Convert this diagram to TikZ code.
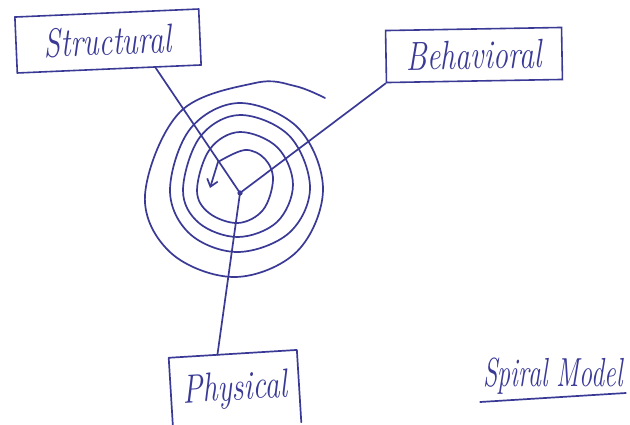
\documentclass[tikz,border=0pt]{standalone}
\usetikzlibrary{arrows.meta,calc}
\definecolor{ink}{RGB}{58,58,150}
\newcommand{\handw}[1]{\scalebox{1.04}[1.4]{#1}}
\begin{document}
\begin{tikzpicture}[x=1pt,y=-1pt]
\tikzset{
  inkline/.style={draw=ink, line width=1.7pt, line cap=round, line join=round},
  handtext/.style={text=ink, font=\fontsize{29}{32}\selectfont\itshape, inner sep=0pt},
  labelbox/.style={handtext, draw=ink, line width=1.6pt}
}
\fill[white] (0,0) rectangle (630,424);
\useasboundingbox (0,0) rectangle (630,424);

% boxes
\node[labelbox, minimum width=184pt, minimum height=56pt, rotate=2.5] (S) at (108,41) {\handw{Structural}};
\node[labelbox, minimum width=176pt, minimum height=52pt, rotate=1] (B) at (474,55) {\handw{Behavioral}};
\node[handtext, minimum width=128pt, minimum height=72pt, rotate=3.5] (P) at (235,390) {\handw{Physical}};
\draw[inkline] (P.south west) -- (P.north west) -- (P.north east) -- (P.south east);

% title
\node[handtext, anchor=base] (M) at (553,386) {\scalebox{0.9}[1.4]{Spiral Model}};
\draw[inkline] ($(M.base west)+(-3,16)$) -- ($(M.base east)+(3,7)$);

% centre of the spiral
\coordinate (v) at (240,193);
\draw[inkline] ($(S.south west)!0.75!(S.south east)$) -- (v);
\draw[inkline] (B.south west) -- (v);
\draw[inkline] (v) -- ($(P.north west)!0.38!(P.north east)$);
\fill[ink] (v) circle (2.6);

% spiral
\draw[inkline, -{Straight Barb[length=7pt,width=11pt]}]
  plot[smooth, tension=0.6] coordinates {
  (325,98) (295,86) (255,83) (180,112) (145,195) (171,253) (235,277)
  (297,251.5) (323,190) (298.7,128.5) (240,103) (190.5,128.5) (170,190)
  (190,234) (238,252) (289,233) (310,188) (289.5,136) (240,115) (200,137)
  (183,190) (199,223) (238,237) (277,222) (293,185) (277.5,147.5) (240,132)
  (210,149) (197,190) (209,213) (238,223) (263,210) (273,180) (265,159)
  (245,150) (218,162)} -- (210,188);
\end{tikzpicture}
\end{document}
